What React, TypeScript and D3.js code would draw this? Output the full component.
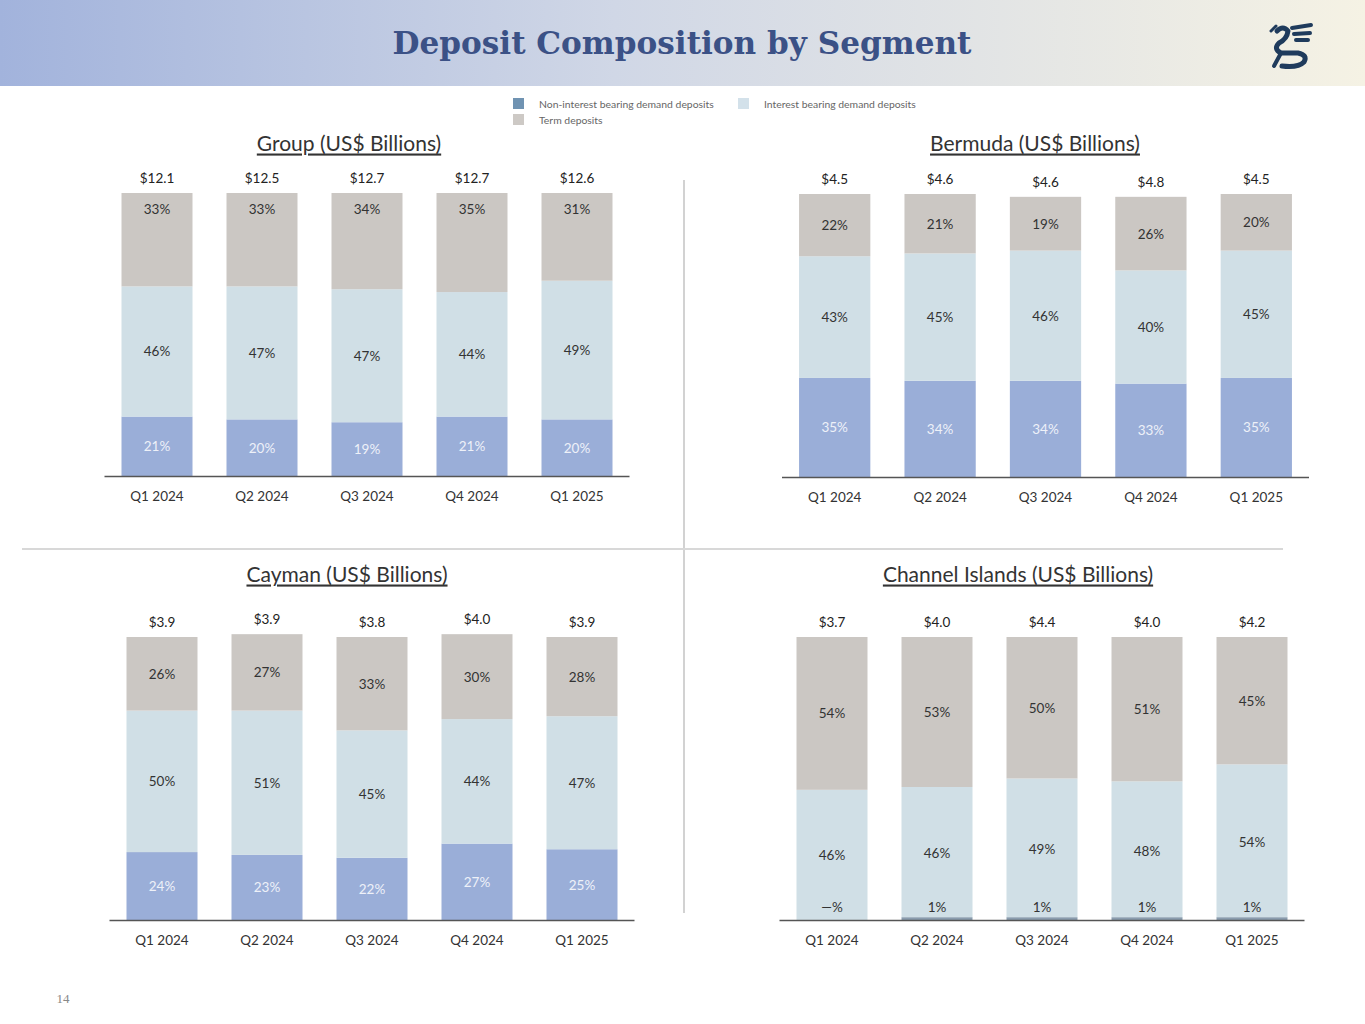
import React from 'react';
import * as d3 from 'd3';

// quarter labels shared by all four panels
const quarters = ['Q1 2024', 'Q2 2024', 'Q3 2024', 'Q4 2024', 'Q1 2025'];

// Group
const groupTotals = ['$12.1', '$12.5', '$12.7', '$12.7', '$12.6'];
const groupNonInt = [21, 20, 19, 21, 20];
const groupInt = [46, 47, 47, 44, 49];
const groupTerm = [33, 33, 34, 35, 31];

// Bermuda
const bermudaTotals = ['$4.5', '$4.6', '$4.6', '$4.8', '$4.5'];
const bermudaNonInt = [35, 34, 34, 33, 35];
const bermudaInt = [43, 45, 46, 40, 45];
const bermudaTerm = [22, 21, 19, 26, 20];

// Cayman
const caymanTotals = ['$3.9', '$3.9', '$3.8', '$4.0', '$3.9'];
const caymanNonInt = [24, 23, 22, 27, 25];
const caymanInt = [50, 51, 45, 44, 47];
const caymanTerm = [26, 27, 33, 30, 28];

// Channel Islands
const ciTotals = ['$3.7', '$4.0', '$4.4', '$4.0', '$4.2'];
const ciNonInt = [0, 1, 1, 1, 1];
const ciNonIntLabels = ['—%', '1%', '1%', '1%', '1%'];
const ciInt = [46, 46, 49, 48, 54];
const ciTerm = [54, 53, 50, 51, 45];

const legendItems = [
  { label: 'Non-interest bearing demand deposits', color: '#7093b2' },
  { label: 'Interest bearing demand deposits', color: '#d3e1ea' },
  { label: 'Term deposits', color: '#cdc9c5' },
];

const COLORS = { nonInt: '#9aaed8', int: '#d0dfe6', term: '#cbc7c3' };
const FONT = 'Lato, "Open Sans", sans-serif';

interface PanelProps {
  title: string;
  titleX: number;
  titleY: number;
  x0: number;
  x1: number;
  base: number;
  top: number;
  totals: string[];
  nonInt: number[];
  int: number[];
  term: number[];
  nonIntLabels?: string[];
  termAtTop?: boolean;
  smallNonInt?: boolean;
}

const Panel: React.FC<PanelProps> = (p) => {
  const x = d3.scaleBand<string>()
    .domain(quarters)
    .range([p.x0, p.x1])
    .paddingInner(0.3238)
    .paddingOuter(0.1619);
  const y = d3.scaleLinear().domain([0, 100]).range([p.base, p.top]);
  const bw = x.bandwidth();

  return (
    <g>
      <text x={p.titleX} y={p.titleY} textAnchor="middle" dominantBaseline="central"
        fontFamily={FONT} fontSize={21} fill="#333" style={{ textDecoration: 'underline' }}>
        {p.title}
      </text>
      {quarters.map((q, i) => {
        const bx = x(q)!;
        const cx = bx + bw / 2;
        const a = p.nonInt[i];
        const b = a + p.int[i];
        const c = b + p.term[i];
        const nonLabel = p.nonIntLabels ? p.nonIntLabels[i] : `${a}%`;
        const termY = p.termAtTop ? y(c) + 16 : (y(b) + y(c)) / 2;
        const nonY = p.smallNonInt ? p.base - 13 : (y(0) + y(a)) / 2;
        return (
          <g key={q}>
            <rect x={bx} y={y(a)} width={bw} height={y(0) - y(a)}
              fill={p.smallNonInt ? '#8a9cae' : COLORS.nonInt} />
            <rect x={bx} y={y(b)} width={bw} height={y(a) - y(b)} fill={COLORS.int} />
            <rect x={bx} y={y(c)} width={bw} height={y(b) - y(c)} fill={COLORS.term} />
            <text x={cx} y={y(c) - 15} textAnchor="middle" dominantBaseline="central"
              fontFamily={FONT} fontSize={13.5} fill="#222">{p.totals[i]}</text>
            <text x={cx} y={termY} textAnchor="middle" dominantBaseline="central"
              fontFamily={FONT} fontSize={13.5} fill="#333">{`${p.term[i]}%`}</text>
            <text x={cx} y={p.smallNonInt ? (y(b) + y(0)) / 2 : (y(a) + y(b)) / 2} textAnchor="middle"
              dominantBaseline="central" fontFamily={FONT} fontSize={13.5} fill="#333">{`${p.int[i]}%`}</text>
            <text x={cx} y={nonY} textAnchor="middle" dominantBaseline="central"
              fontFamily={FONT} fontSize={13.5} fill={p.smallNonInt ? '#333' : '#eef1f8'}>{nonLabel}</text>
            <text x={cx} y={p.base + 20} textAnchor="middle" dominantBaseline="central"
              fontFamily={FONT} fontSize={13.5} fill="#333">{q}</text>
          </g>
        );
      })}
      <line x1={p.x0} x2={p.x1} y1={p.base + 0.5} y2={p.base + 0.5} stroke="#555" strokeWidth={1.5} />
    </g>
  );
};

const App: React.FC = () => {
  const W = 1365;
  const H = 1024;
  return (
    <svg width={W} height={H} style={{ position: 'absolute', left: 0, top: 0, background: '#fff' }}>
      <defs>
        <linearGradient id="hdr" x1="0" x2="1" y1="0" y2="0">
          <stop offset="0" stopColor="#a2b3dc" />
          <stop offset="0.45" stopColor="#d0d7e6" />
          <stop offset="1" stopColor="#f5f2e4" />
        </linearGradient>
      </defs>
      <rect x={0} y={0} width={W} height={86} fill="url(#hdr)" />
      <text x={682} y={43} textAnchor="middle" dominantBaseline="central"
        fontFamily='"DejaVu Serif", "Liberation Serif", serif' fontWeight="bold" fontSize={31}
        textLength={579} lengthAdjust="spacingAndGlyphs" fill="#3b5186">
        Deposit Composition by Segment
      </text>
      {/* logo */}
      <g transform="translate(1268,22)" fill="none" stroke="#1f3b5c" strokeWidth={5} strokeLinecap="round" strokeLinejoin="round">
        <path d="M9 9 Q15 3 20 9 Q19 17 11 21 Q5 27 13 31 L30 31 Q40 33 36 40 Q30 46 14 44" />
        <path d="M24 6 L43 3 M26 12 L42 11 M28 18 L40 18" strokeWidth={4} />
        <path d="M13 31 L6 44" strokeWidth={4} />
        <path d="M3 9 L8 4" strokeWidth={3} />
      </g>

      {/* legend */}
      {legendItems.map((d, i) => {
        const lx = i === 1 ? 738 : 513;
        const ly = i === 2 ? 114 : 98;
        return (
          <g key={d.label}>
            <rect x={lx} y={ly} width={11} height={11} fill={d.color} />
            <text x={lx + 26} y={ly + 6} dominantBaseline="central" fontFamily={FONT}
              fontSize={10.4} fill="#666">{d.label}</text>
          </g>
        );
      })}

      {/* dividers */}
      <line x1={684} x2={684} y1={180} y2={913} stroke="#d2d2d2" strokeWidth={2} />
      <line x1={22} x2={1283} y1={549} y2={549} stroke="#d8d8d8" strokeWidth={2} />

      <Panel title="Group (US$ Billions)" titleX={349} titleY={142} x0={104.5} x1={629.5}
        base={476} top={193} totals={groupTotals} nonInt={groupNonInt} int={groupInt}
        term={groupTerm} termAtTop />
      <Panel title="Bermuda (US$ Billions)" titleX={1035} titleY={142} x0={782} x1={1309}
        base={477} top={194} totals={bermudaTotals} nonInt={bermudaNonInt} int={bermudaInt}
        term={bermudaTerm} />
      <Panel title="Cayman (US$ Billions)" titleX={347} titleY={573} x0={109.5} x1={634.5}
        base={920} top={637} totals={caymanTotals} nonInt={caymanNonInt} int={caymanInt}
        term={caymanTerm} />
      <Panel title="Channel Islands (US$ Billions)" titleX={1018} titleY={573} x0={779.5} x1={1304.5}
        base={920} top={637} totals={ciTotals} nonInt={ciNonInt} int={ciInt} term={ciTerm}
        nonIntLabels={ciNonIntLabels} smallNonInt />

      <text x={63} y={998} textAnchor="middle" dominantBaseline="central"
        fontFamily='"Liberation Serif", serif' fontSize={13} fill="#888">14</text>
    </svg>
  );
};

export default App;
